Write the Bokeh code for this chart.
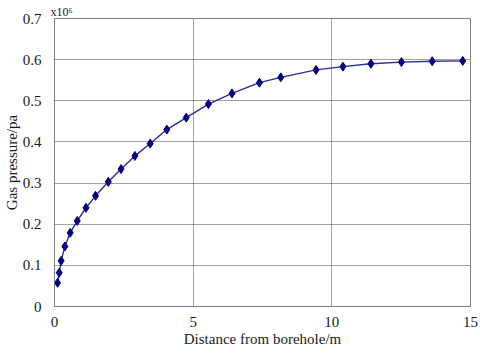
from bokeh.plotting import figure
from bokeh.models import FixedTicker, Range1d, Title
from bokeh.embed import file_html
from bokeh.resources import INLINE

distance = [0.11, 0.17, 0.24, 0.375, 0.566, 0.82, 1.135, 1.48, 1.94, 2.40, 2.90, 3.45,
            4.05, 4.75, 5.55, 6.40, 7.39, 8.16, 9.43, 10.40, 11.41, 12.51, 13.62, 14.72]
pressure = [0.0575, 0.082, 0.111, 0.146, 0.179, 0.208, 0.240, 0.269, 0.303, 0.334, 0.366, 0.396,
            0.430, 0.459, 0.492, 0.518, 0.544, 0.557, 0.575, 0.583, 0.590, 0.594, 0.596, 0.597]
x_ticks = [0, 5, 10, 15]
y_ticks = [0, 0.1, 0.2, 0.3, 0.4, 0.5, 0.6, 0.7]
y_tick_labels = ["0", "0.1", "0.2", "0.3", "0.4", "0.5", "0.6", "0.7"]

FONT = "Liberation Serif"
TXT = "#1a1a1a"

p = figure(width=480, height=355, output_backend="svg", toolbar_location=None,
           x_range=Range1d(0, 15), y_range=Range1d(0, 0.7),
           min_border_left=54, min_border_right=10, min_border_top=18, min_border_bottom=49)

p.background_fill_color = "white"
p.border_fill_color = "white"
p.outline_line_color = "#808080"
p.outline_line_width = 1

p.line(distance, pressure, line_color="#2b2b9c", line_width=1.4)
p.scatter(distance, pressure, marker="diamond", size=9, fill_color="#000080", line_color="#000080")

for ax in (p.xaxis, p.yaxis):
    ax.axis_line_color = "#808080"
    ax.major_tick_line_color = None
    ax.minor_tick_line_color = None
    ax.major_label_text_font = FONT
    ax.major_label_text_font_size = "15px"
    ax.major_label_text_color = TXT
    ax.axis_label_text_font = FONT
    ax.axis_label_text_font_size = "15px"
    ax.axis_label_text_font_style = "normal"
    ax.axis_label_text_color = TXT

p.xaxis.ticker = FixedTicker(ticks=x_ticks)
p.yaxis.ticker = FixedTicker(ticks=y_ticks)
p.yaxis.major_label_overrides = {t: l for t, l in zip(y_ticks, y_tick_labels)}
p.xaxis.major_label_standoff = 4
p.yaxis.major_label_standoff = 7
p.xaxis.axis_label = "Distance from borehole/m"
p.yaxis.axis_label = "Gas pressure/pa"
p.xaxis.axis_label_standoff = 1
p.yaxis.axis_label_standoff = 0

for g in (p.xgrid, p.ygrid):
    g.grid_line_color = "#444444"
    g.grid_line_dash = "1 1"
    g.grid_line_width = 1

p.add_layout(Title(text="x10\u2076", text_font=FONT, text_font_size="12px",
                   text_font_style="normal", text_color=TXT, align="left",
                   offset=-4, standoff=0), "above")

open("out.html", "w").write(file_html(p, INLINE))
